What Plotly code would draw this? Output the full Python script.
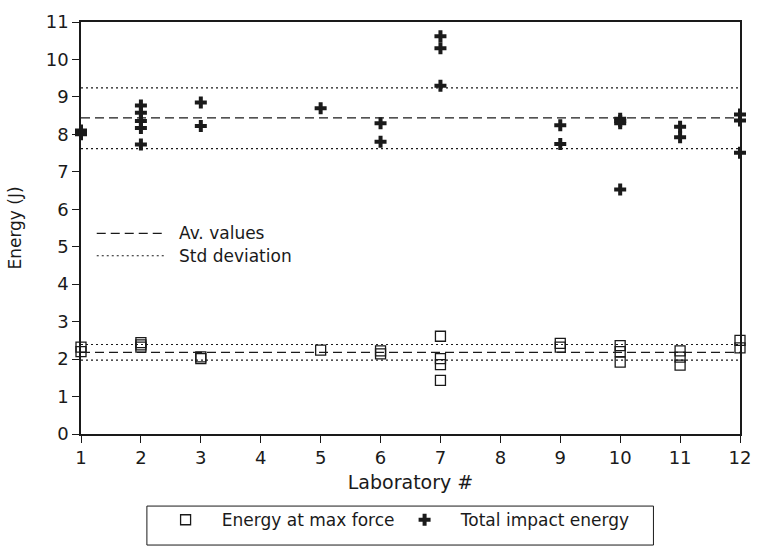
import plotly.graph_objects as go

# ---- data ----
maxforce_lab = [1, 1, 2, 2, 2, 3, 3, 5, 6, 6, 7, 7, 7, 7, 9, 9, 10, 10, 10, 11, 11, 11, 12, 12]
maxforce_energy = [2.32, 2.2, 2.44, 2.38, 2.32, 2.06, 2.01, 2.24, 2.22, 2.14,
                   2.61, 2.01, 1.85, 1.43, 2.42, 2.32, 2.36, 2.2, 1.92, 2.22, 2.05, 1.84, 2.5, 2.3]

total_lab = [1, 1, 1, 2, 2, 2, 2, 2, 3, 3, 5, 6, 6, 7, 7, 7, 9, 9, 10, 10, 10, 10, 11, 11, 12, 12, 12]
total_energy = [8.0, 8.05, 8.1, 8.77, 8.58, 8.36, 8.17, 7.73, 8.85, 8.22, 8.7, 8.3, 7.8,
                10.62, 10.3, 9.3, 8.24, 7.74, 8.42, 8.36, 8.3, 6.53, 8.2, 7.92, 8.53, 8.37, 7.51]

line_x = [1, 12]
total_avg = 8.44
total_std_hi = 9.24
total_std_lo = 7.62
maxforce_avg = 2.18
maxforce_std_hi = 2.39
maxforce_std_lo = 1.97

x_ticks = [1, 2, 3, 4, 5, 6, 7, 8, 9, 10, 11, 12]
y_ticks = [0, 1, 2, 3, 4, 5, 6, 7, 8, 9, 10, 11]

FONT = "DejaVu Sans"
INK = "#1a1a1a"
DASH = "9px,5px"
DOT = "2px,3px"
NB = "\u00a0\u00a0\u00a0"

# plot-area pixel geometry (for paper-coordinate decorations)
L, R, T, B = 81, 751, 11, 434
W, H = R - L, B - T


def px_x(p):
    return (p - L) / W


def px_y(p):
    return (B - p) / H


fig = go.Figure()

for yv, dash in [(total_avg, DASH), (total_std_hi, DOT), (total_std_lo, DOT),
                 (maxforce_avg, DASH), (maxforce_std_hi, DOT), (maxforce_std_lo, DOT)]:
    fig.add_trace(go.Scatter(x=line_x, y=[yv, yv], mode="lines",
                             line=dict(color=INK, width=1.2, dash=dash),
                             showlegend=False, hoverinfo="skip", cliponaxis=False))

fig.add_trace(go.Scatter(x=maxforce_lab, y=maxforce_energy, mode="markers",
                         name=NB + "Energy at max force",
                         marker=dict(symbol="square-open", size=10, color=INK,
                                     line=dict(width=1.3, color=INK)),
                         cliponaxis=False))
fig.add_trace(go.Scatter(x=total_lab, y=total_energy, mode="markers",
                         name=NB + "Total impact energy",
                         marker=dict(symbol="cross", size=10, color=INK,
                                     line=dict(width=0)),
                         cliponaxis=False))

# inset key for the lines
key_items = [("Av. values", DASH, 228), ("Std deviation", DOT, 251)]
for label, dash, ypx in key_items:
    fig.add_shape(type="line", xref="paper", yref="paper",
                  x0=px_x(97), x1=px_x(168), y0=px_y(ypx), y1=px_y(ypx),
                  line=dict(color=INK, width=1.2, dash=dash))
    fig.add_annotation(xref="paper", yref="paper", x=px_x(179), y=px_y(ypx),
                       xanchor="left", yanchor="middle", showarrow=False,
                       text=label, font=dict(family=FONT, size=17, color=INK))

# bottom legend frame
fig.add_shape(type="rect", xref="paper", yref="paper",
              x0=px_x(148), x1=px_x(663), y0=px_y(508), y1=px_y(548),
              line=dict(color=INK, width=1))

axis_common = dict(showline=True, mirror=True, linecolor=INK, linewidth=1.5,
                   ticks="outside", ticklen=7, tickwidth=1, tickcolor=INK,
                   showgrid=False, zeroline=False,
                   tickfont=dict(family=FONT, size=18, color=INK))

fig.update_xaxes(range=[1, 12], tickvals=x_ticks, ticktext=[str(v) for v in x_ticks],
                 title=dict(text="Laboratory #", font=dict(family=FONT, size=19, color=INK),
                            standoff=8),
                 **axis_common)
fig.update_yaxes(range=[0, 11], tickvals=y_ticks, ticktext=[str(v) for v in y_ticks],
                 title=dict(text="Energy (J)", font=dict(family=FONT, size=17, color=INK),
                            standoff=20),
                 **axis_common)

fig.update_layout(
    width=762, height=553,
    margin=dict(l=81, r=11, t=11, b=119),
    paper_bgcolor="white", plot_bgcolor="white",
    font=dict(family=FONT, size=17, color=INK),
    legend=dict(orientation="h", x=px_x(167), y=px_y(504),
                xanchor="left", yanchor="top",
                borderwidth=0, bgcolor="rgba(0,0,0,0)",
                entrywidth=194, font=dict(family=FONT, size=17, color=INK)),
)

fig.write_html("out.html")
